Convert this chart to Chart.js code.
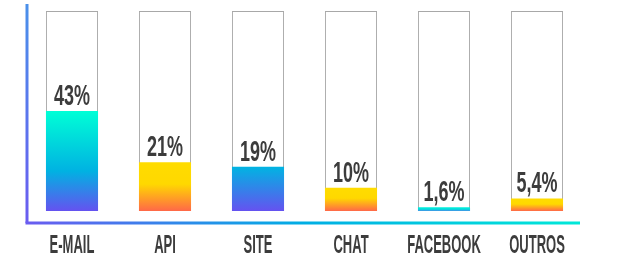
<!DOCTYPE html>
<html>
<head>
<meta charset="utf-8">
<script src="https://cdn.jsdelivr.net/npm/chart.js@4"></script>
<style>
  html, body { margin: 0; padding: 0; background: #fff; }
  #wrap { width: 636px; height: 264px; }
</style>
</head>
<body>
<div id="wrap"><canvas id="chart" width="636" height="264"></canvas></div>
<script>
const categories = ['E-MAIL', 'API', 'SITE', 'CHAT', 'FACEBOOK', 'OUTROS'];
const shares = [43, 21, 19, 10, 1.6, 5.4];
const shareLabels = ['43%', '21%', '19%', '10%', '1,6%', '5,4%'];
const scaleMax = 86;

// gradient schemes: 'blue' from cyan to purple, 'warm' from yellow to orange
const schemes = ['blue3', 'warm', 'blue2', 'warm', 'blueThin', 'warm'];

function barGradient(ctx, top, bottom, scheme) {
    const g = ctx.createLinearGradient(0, top, 0, bottom);
    if (scheme === 'blue3') {
        g.addColorStop(0, '#00ffd6');
        g.addColorStop(0.6, '#00b2e2');
        g.addColorStop(1, '#6552f0');
    } else if (scheme === 'blue2') {
        g.addColorStop(0, '#00b4e2');
        g.addColorStop(1, '#6552f0');
    } else if (scheme === 'blueThin') {
        g.addColorStop(0, '#00f0dc');
        g.addColorStop(0.5, '#00e0dc');
        g.addColorStop(1, '#4a8ae8');
    } else {
        g.addColorStop(0, '#ffdc00');
        g.addColorStop(0.45, '#ffd800');
        g.addColorStop(1, '#ff6848');
    }
    return g;
}

// axis lines drawn just outside the chart area
const axisLines = {
    id: 'axisLines',
    beforeDatasetsDraw(chart) {
        const ctx = chart.ctx;
        const area = chart.chartArea;
        const axisX = area.left + 1.5;
        const axisY = area.bottom + 12;
        ctx.save();
        ctx.lineWidth = 3;
        let g = ctx.createLinearGradient(0, 4, 0, axisY);
        g.addColorStop(0, '#4a90ea');
        g.addColorStop(1, '#6a5cf0');
        ctx.strokeStyle = g;
        ctx.beginPath();
        ctx.moveTo(axisX, 4);
        ctx.lineTo(axisX, axisY);
        ctx.stroke();
        g = ctx.createLinearGradient(axisX, 0, 580, 0);
        g.addColorStop(0, '#6a5cf0');
        g.addColorStop(0.5, '#00aee4');
        g.addColorStop(1, '#00e8d8');
        ctx.strokeStyle = g;
        ctx.beginPath();
        ctx.moveTo(axisX - 1.5, axisY);
        ctx.lineTo(580, axisY);
        ctx.stroke();
        ctx.restore();
    }
};

// condensed text for category names and values
const condensedText = {
    id: 'condensedText',
    afterDatasetsDraw(chart) {
        const ctx = chart.ctx;
        const xs = chart.scales.x;
        const ys = chart.scales.y;
        ctx.save();
        ctx.fillStyle = '#3c3c3c';
        ctx.textAlign = 'center';
        ctx.textBaseline = 'alphabetic';
        categories.forEach((cat, i) => {
            const x = xs.getPixelForValue(i);
            ctx.save();
            ctx.translate(x, 253);
            ctx.scale(0.5, 1);
            ctx.font = 'bold 26px "Liberation Sans"';
            ctx.fillText(cat, 0, 0);
            ctx.restore();

            const top = ys.getPixelForValue(shares[i]);
            ctx.save();
            ctx.translate(x, top - 6);
            ctx.scale(0.62, 1);
            ctx.font = 'bold 29px "Liberation Sans"';
            ctx.fillText(shareLabels[i], 0, 0);
            ctx.restore();
        });
        ctx.restore();
    }
};

new Chart(document.getElementById('chart'), {
    type: 'bar',
    data: {
        labels: categories,
        datasets: [
            {
                data: shares,
                order: 0,
                grouped: false,
                borderWidth: 0,
                backgroundColor: (c) => {
                    const chart = c.chart;
                    if (!chart.chartArea || c.dataIndex === undefined) return '#ffd800';
                    const ys = chart.scales.y;
                    const top = ys.getPixelForValue(shares[c.dataIndex]);
                    const bottom = ys.getPixelForValue(0);
                    return barGradient(chart.ctx, top, bottom, schemes[c.dataIndex]);
                }
            },
            {
                data: categories.map(() => scaleMax),
                order: 1,
                grouped: false,
                backgroundColor: '#ffffff',
                borderColor: '#a8a8a8',
                borderWidth: 1,
                borderSkipped: false
            }
        ]
    },
    options: {
        responsive: false,
        animation: false,
        layout: { padding: { left: 25.5, right: 52.5, top: 11, bottom: 53 } },
        datasets: { bar: { barPercentage: 1, categoryPercentage: 0.56 } },
        scales: {
            x: { display: false },
            y: { display: false, min: 0, max: scaleMax }
        },
        plugins: {
            legend: { display: false },
            tooltip: { enabled: false }
        }
    },
    plugins: [axisLines, condensedText]
});
</script>
</body>
</html>
